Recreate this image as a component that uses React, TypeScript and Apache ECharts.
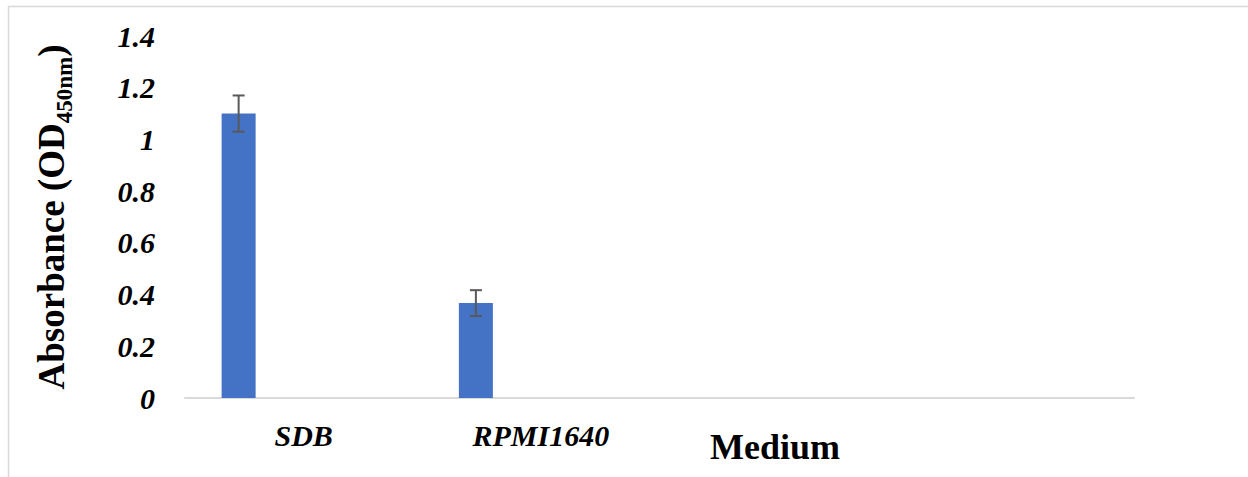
import React, { useEffect, useRef } from "react";
import * as echarts from "echarts";

const categories = ["SDB", "RPMI1640", "", ""];
const absorbance = [1.1, 0.367, "-", "-"];
const errors = [0.07, 0.05, 0, 0];
const yTicks = { min: 0, max: 1.4, interval: 0.2 };

const FONT = "Liberation Serif";
const BAR_W = 34;
const GAP_PX = 31;

export default function App() {
  const ref = useRef<HTMLDivElement>(null);
  useEffect(() => {
    if (!ref.current) return;
    const chart = echarts.init(ref.current, null, { renderer: "svg" });
    const errData = categories
      .map((c, i) => [i, absorbance[i], errors[i]])
      .filter((d) => typeof d[1] === "number");
    chart.setOption({
      animation: false,
      backgroundColor: "#ffffff",
      grid: { left: 185, right: 114, top: 36, bottom: 79, containLabel: false },
      xAxis: {
        type: "category",
        data: categories,
        axisLine: { show: true, lineStyle: { color: "#d9d9d9", width: 2 } },
        axisTick: { show: false },
        axisLabel: {
          fontFamily: FONT,
          fontWeight: "bold",
          fontStyle: "italic",
          fontSize: 30,
          color: "#000",
          margin: 22,
        },
      },
      yAxis: {
        type: "value",
        min: yTicks.min,
        max: yTicks.max,
        interval: yTicks.interval,
        splitLine: { show: false },
        axisLine: { show: false },
        axisTick: { show: false },
        axisLabel: {
          fontFamily: FONT,
          fontWeight: "bold",
          fontStyle: "italic",
          fontSize: 30,
          color: "#000",
          margin: 30,
          formatter: (v: number) => String(Math.round(v * 10) / 10),
        },
        name: "{m|Absorbance (OD}{s|450nm}{m|)}",
        nameLocation: "middle",
        nameRotate: 90,
        nameGap: 115,
        nameTextStyle: {
          rich: {
            m: { fontFamily: FONT, fontWeight: "bold", fontSize: 37, color: "#000", lineHeight: 40, verticalAlign: "bottom" },
            s: { fontFamily: FONT, fontWeight: "bold", fontSize: 23, color: "#000", lineHeight: 40, verticalAlign: "bottom", padding: [0, 0, -6, 0] },
          },
        },
      },
      series: [
        {
          type: "bar",
          data: absorbance,
          barWidth: BAR_W,
          barGap: (GAP_PX / BAR_W) * 100 + "%",
          itemStyle: { color: "#4472C4" },
        },
        { type: "bar", data: ["-", "-", "-", "-"], barWidth: BAR_W },
        { type: "bar", data: ["-", "-", "-", "-"], barWidth: BAR_W },
        {
          type: "custom",
          data: errData,
          z: 10,
          renderItem: (params: any, api: any) => {
            const idx = api.value(0);
            const v = api.value(1);
            const e = api.value(2);
            const off = -(BAR_W + GAP_PX);
            const top = api.coord([idx, v + e]);
            const bot = api.coord([idx, v - e]);
            const x = top[0] + off;
            const style = { stroke: "#595959", lineWidth: 2 };
            return {
              type: "group",
              children: [
                { type: "line", shape: { x1: x, y1: top[1], x2: x, y2: bot[1] }, style },
                { type: "line", shape: { x1: x - 6, y1: top[1], x2: x + 6, y2: top[1] }, style },
                { type: "line", shape: { x1: x - 6, y1: bot[1], x2: x + 6, y2: bot[1] }, style },
              ],
            };
          },
        },
      ],
      graphic: [
        { type: "line", shape: { x1: 8, y1: 6.5, x2: 1248, y2: 6.5 }, style: { stroke: "#d9d9d9", lineWidth: 1.5 } },
        { type: "line", shape: { x1: 8.5, y1: 6, x2: 8.5, y2: 477 }, style: { stroke: "#d9d9d9", lineWidth: 1.5 } },
        {
          type: "text",
          x: 775,
          y: 447,
          style: {
            text: "Medium",
            fontFamily: FONT,
            fontWeight: "bold",
            fontSize: 36,
            fill: "#000",
            textAlign: "center",
            textVerticalAlign: "middle",
          },
        },
      ],
    });
    return () => chart.dispose();
  }, []);
  return (
    <div
      ref={ref}
      style={{ position: "fixed", left: 0, top: 0, width: 1248, height: 477, background: "#fff" }}
    />
  );
}
